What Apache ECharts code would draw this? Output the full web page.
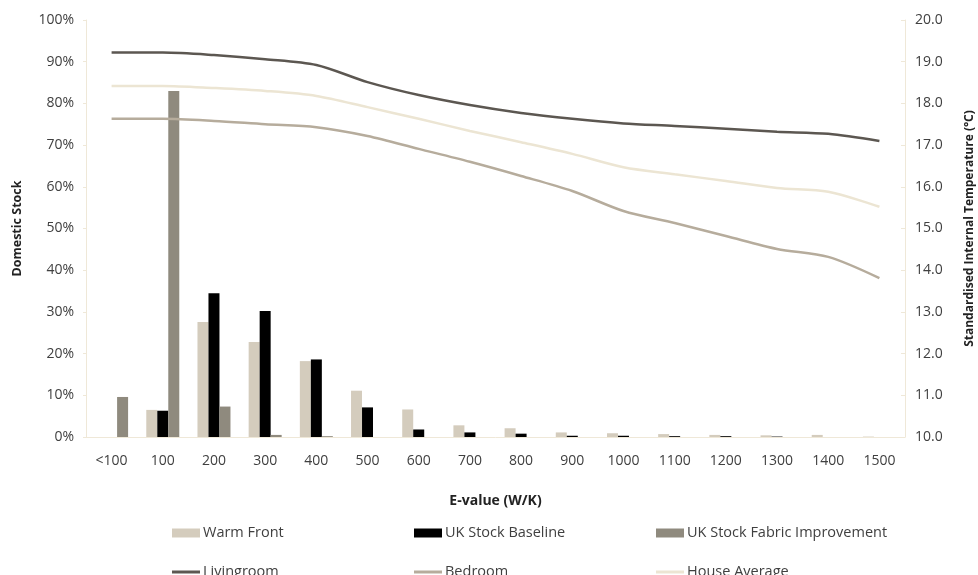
<!DOCTYPE html>
<html>
<head>
<meta charset="utf-8">
<script src="https://cdn.jsdelivr.net/npm/echarts@6/dist/echarts.min.js"></script>
<style>
  html, body { margin: 0; padding: 0; background: #fff; }
  #chart { width: 978px; height: 575px; }
</style>
</head>
<body>
<div id="chart"></div>
<script>
var categories = ['<100', '100', '200', '300', '400', '500', '600', '700', '800', '900', '1000', '1100', '1200', '1300', '1400', '1500'];

// share of stock (fraction)
var warmFront = [0, 0.065, 0.276, 0.228, 0.182, 0.111, 0.066, 0.028, 0.021, 0.011, 0.009, 0.007, 0.005, 0.004, 0.005, 0.001];
var ukBaseline = [0, 0.063, 0.345, 0.302, 0.186, 0.071, 0.018, 0.011, 0.008, 0.003, 0.003, 0.002, 0.002, 0.001, 0, 0];
var ukFabric = [0.096, 0.83, 0.073, 0.005, 0.002, 0, 0, 0, 0, 0, 0, 0, 0, 0, 0, 0];

// standardised internal temperature (degC)
var livingroom = [19.22, 19.22, 19.16, 19.06, 18.92, 18.51, 18.2, 17.96, 17.77, 17.63, 17.52, 17.46, 17.39, 17.32, 17.27, 17.1];
var bedroom = [17.63, 17.63, 17.58, 17.5, 17.43, 17.22, 16.91, 16.6, 16.26, 15.9, 15.42, 15.13, 14.82, 14.51, 14.32, 13.81];
var houseAverage = [18.42, 18.42, 18.37, 18.3, 18.18, 17.91, 17.63, 17.34, 17.07, 16.79, 16.47, 16.3, 16.14, 15.97, 15.88, 15.52];

var font = 'Open Sans';
var axisCol = '#efe8d8';
var labelCol = '#404040';

var chart = echarts.init(document.getElementById('chart'), null, { renderer: 'canvas' });

var legendText = { fontFamily: font, fontSize: 14.5, color: labelCol, width: 211, lineHeight: 16, padding: [0, 0, 0, -2] };

chart.setOption({
    animation: false,
    textStyle: { fontFamily: font },
    grid: { left: 86, right: 73, top: 20, bottom: 138, outerBoundsMode: 'none' },
    legend: [{
        left: 167,
        top: 520,
        itemGap: 0,
        itemWidth: 28,
        itemHeight: 9,
        icon: 'rect',
        textStyle: legendText,
        data: ['Warm Front', 'UK Stock Baseline', 'UK Stock Fabric Improvement']
    }, {
        left: 167,
        top: 559,
        itemGap: 0,
        itemWidth: 28,
        itemHeight: 3,
        icon: 'rect',
        textStyle: legendText,
        data: ['Livingroom', 'Bedroom', 'House Average']
    }],
    xAxis: {
        type: 'category',
        data: categories,
        name: 'E-value (W/K)',
        nameLocation: 'middle',
        nameGap: 57,
        nameTextStyle: { fontFamily: font, fontWeight: 'bold', fontSize: 14, color: '#222' },
        axisLine: { lineStyle: { color: axisCol, width: 1 } },
        axisTick: { length: 4, lineStyle: { color: axisCol } },
        axisLabel: { fontSize: 14, color: labelCol, margin: 17, interval: 0 },
        splitLine: { show: false }
    },
    yAxis: [{
        type: 'value',
        min: 0,
        max: 1,
        interval: 0.1,
        name: 'Domestic Stock',
        nameLocation: 'middle',
        nameGap: 62,
        nameTextStyle: { fontFamily: font, fontWeight: 'bold', fontSize: 12.5, color: '#222' },
        axisLine: { show: true, lineStyle: { color: axisCol } },
        axisTick: { show: true, length: 3, lineStyle: { color: axisCol } },
        axisLabel: {
            fontSize: 14, color: labelCol, margin: 12,
            formatter: function (v) { return Math.round(v * 100) + '%'; }
        },
        splitLine: { show: false }
    }, {
        type: 'value',
        min: 10,
        max: 20,
        interval: 1,
        position: 'right',
        name: 'Standardised Internal Temperature (°C)',
        nameLocation: 'middle',
        nameGap: 59,
        nameRotate: 90,
        nameTextStyle: { fontFamily: font, fontWeight: 'bold', fontSize: 12, color: '#222' },
        axisLine: { show: true, lineStyle: { color: axisCol } },
        axisTick: { show: true, inside: true, length: 4, lineStyle: { color: axisCol } },
        axisLabel: {
            fontSize: 14, color: labelCol, margin: 10,
            formatter: function (v) { return v.toFixed(1); }
        },
        splitLine: { show: false }
    }],
    series: [{
        name: 'Warm Front',
        type: 'bar',
        barWidth: 11,
        barGap: '0%',
        itemStyle: { color: '#d4ccbd' },
        data: warmFront
    }, {
        name: 'UK Stock Baseline',
        type: 'bar',
        barWidth: 11,
        barGap: '0%',
        itemStyle: { color: '#000000' },
        data: ukBaseline
    }, {
        name: 'UK Stock Fabric Improvement',
        type: 'bar',
        barWidth: 11,
        barGap: '0%',
        itemStyle: { color: '#8f8a7e' },
        data: ukFabric
    }, {
        name: 'Livingroom',
        type: 'line',
        yAxisIndex: 1,
        symbol: 'none',
        smooth: 0.3,
        lineStyle: { color: '#5c5751', width: 2.5 },
        itemStyle: { color: '#5c5751' },
        data: livingroom
    }, {
        name: 'Bedroom',
        type: 'line',
        yAxisIndex: 1,
        symbol: 'none',
        smooth: 0.3,
        lineStyle: { color: '#b6ac9c', width: 2.5 },
        itemStyle: { color: '#b6ac9c' },
        data: bedroom
    }, {
        name: 'House Average',
        type: 'line',
        yAxisIndex: 1,
        symbol: 'none',
        smooth: 0.3,
        lineStyle: { color: '#ece5d3', width: 2.5 },
        itemStyle: { color: '#ece5d3' },
        data: houseAverage
    }]
});
</script>
</body>
</html>
